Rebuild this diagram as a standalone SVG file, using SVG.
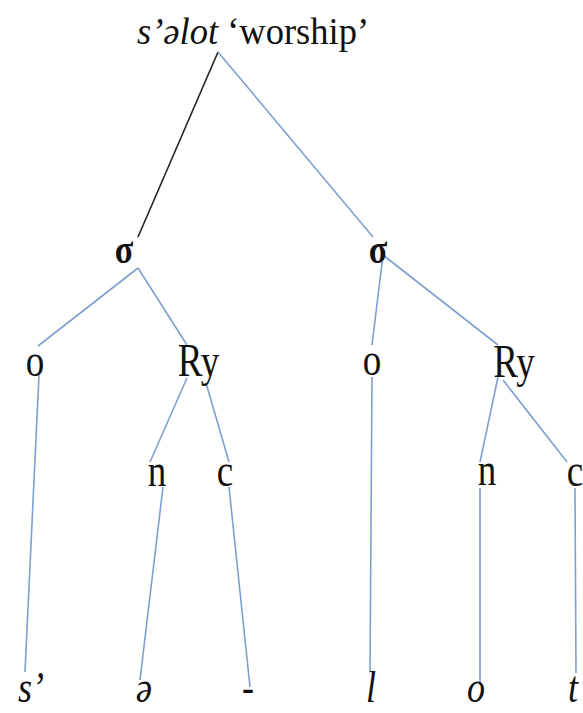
<svg xmlns="http://www.w3.org/2000/svg" width="583" height="713" viewBox="0 0 583 713">
  <style>
    .lbl { font-family: "Liberation Serif", "Times New Roman", serif; font-size: 37px; fill: #111; text-anchor: middle; }
    .sigma { font-weight: bold; font-size: 34px; }
    .seg { font-family: "Liberation Serif", "Times New Roman", serif; font-size: 36px; font-style: italic; fill: #111; text-anchor: middle; }
    .title { font-family: "Liberation Serif", "Times New Roman", serif; font-size: 36.5px; fill: #111; }
    .edge { stroke: #7f9fd0; stroke-width: 1.6; fill: none; }
    .edge-dark { stroke: #222; stroke-width: 1.6; fill: none; }
  </style>
  <rect width="583" height="713" fill="#fff"/>

  <!-- tree branches -->
  <g id="connectors">
    <line class="edge-dark" x1="218" y1="52" x2="138" y2="237"/>
    <line class="edge" x1="218" y1="52" x2="373" y2="237"/>
    <line class="edge" x1="138" y1="268" x2="38" y2="346"/>
    <line class="edge" x1="138" y1="268" x2="187" y2="345"/>
    <line class="edge" x1="383" y1="255" x2="372" y2="345"/>
    <line class="edge" x1="383" y1="255" x2="498" y2="345"/>
    <line class="edge" x1="39" y1="375" x2="25" y2="672"/>
    <line class="edge" x1="187" y1="378" x2="150" y2="462"/>
    <line class="edge" x1="206" y1="383" x2="229" y2="462"/>
    <line class="edge" x1="163" y1="487" x2="140" y2="680"/>
    <line class="edge" x1="229" y1="487" x2="250" y2="687"/>
    <line class="edge" x1="372" y1="377" x2="370" y2="672"/>
    <line class="edge" x1="498" y1="377" x2="480" y2="462"/>
    <line class="edge" x1="503" y1="380" x2="567" y2="462"/>
    <line class="edge" x1="480" y1="488" x2="480" y2="685"/>
    <line class="edge" x1="575" y1="488" x2="576" y2="673"/>
  </g>

  <!-- root: word and gloss -->
  <g id="root">
    <text class="title" transform="translate(137,44) scale(1,1.05)"><tspan font-style="italic">s’əlot</tspan> ‘worship’</text>
  </g>

  <!-- syllables -->
  <g id="syl1"><text class="lbl sigma" transform="translate(124,263) scale(1,1.2)">σ</text></g>
  <g id="syl2"><text class="lbl sigma" transform="translate(378,263) scale(1,1.2)">σ</text></g>

  <!-- onsets and rhymes -->
  <g id="onset1"><text class="lbl" transform="translate(35,376) scale(1,1.25)">o</text></g>
  <g id="rhyme1"><text class="lbl" transform="translate(198.5,376) scale(1,1.25)">Ry</text></g>
  <g id="onset2"><text class="lbl" transform="translate(372,375) scale(1,1.25)">o</text></g>
  <g id="rhyme2"><text class="lbl" transform="translate(514,377) scale(1,1.25)">Ry</text></g>

  <!-- nuclei and codas -->
  <g id="nucleus1"><text class="lbl" transform="translate(157,486) scale(1,1.25)">n</text></g>
  <g id="coda1"><text class="lbl" transform="translate(225,486) scale(1,1.25)">c</text></g>
  <g id="nucleus2"><text class="lbl" transform="translate(487,485) scale(1,1.25)">n</text></g>
  <g id="coda2"><text class="lbl" transform="translate(575,486) scale(1,1.25)">c</text></g>

  <!-- segments -->
  <g id="seg-s"><text class="seg" transform="translate(31,702) scale(1,1.25)">s’</text></g>
  <g id="seg-schwa"><text class="seg" transform="translate(144,702) scale(1,1.25)">ə</text></g>
  <g id="seg-empty"><text class="seg" transform="translate(248,702) scale(1,1.25)">-</text></g>
  <g id="seg-l"><text class="seg" transform="translate(371,702) scale(1,1.25)">l</text></g>
  <g id="seg-o"><text class="seg" transform="translate(476,702) scale(1,1.25)">o</text></g>
  <g id="seg-t"><text class="seg" transform="translate(573,702) scale(1,1.25)">t</text></g>
</svg>
